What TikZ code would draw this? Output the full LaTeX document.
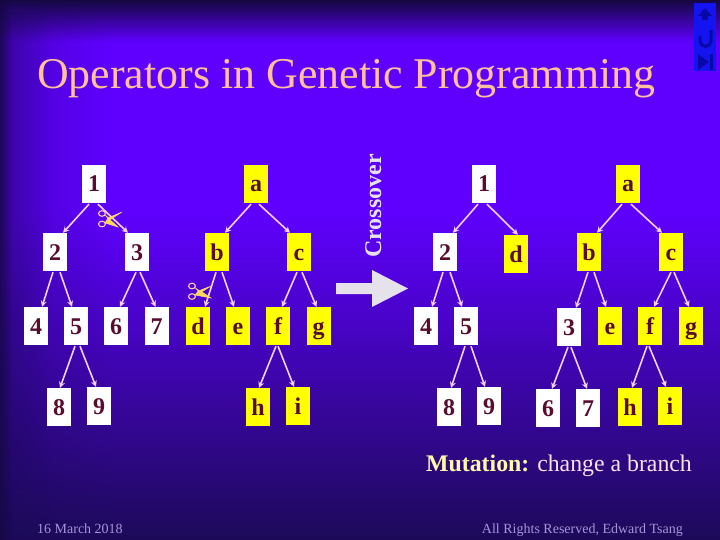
\documentclass[tikz,border=0pt]{standalone}
\usepackage{fontspec}
\setmainfont{Liberation Serif}
\usetikzlibrary{arrows.meta,fadings}
\definecolor{bgmain}{HTML}{5F00FF}
\definecolor{bgdark}{HTML}{1C0A58}
\definecolor{bgedge}{HTML}{140840}
\definecolor{ink}{HTML}{5A0C30}
\definecolor{boxyellow}{HTML}{FFFF00}
\definecolor{titlecol}{HTML}{FFC09A}
\definecolor{linecol}{HTML}{F6D0F6}
\definecolor{footcol}{HTML}{A595D8}
\definecolor{navblue}{HTML}{1414F0}
\definecolor{navdark}{HTML}{0808A8}
\definecolor{arrowcol}{HTML}{E6E2EC}
\definecolor{bladecol}{HTML}{FFD860}
\definecolor{ringcol}{HTML}{FFC8A8}
\tikzset{
  x=1pt,y=-1pt,
  treebox/.style={minimum width=24pt,minimum height=38pt,inner sep=0pt,
    text height=16pt,text depth=0pt,text=ink,font=\fontsize{24}{24}\selectfont\bfseries},
  tw/.style={treebox,fill=white},
  ty/.style={treebox,fill=boxyellow},
  conn/.style={draw=linecol,line width=1.6pt,-{Stealth[length=6pt,width=6pt]}},
  ring/.style={draw=ringcol,line width=1.1pt},
  blade/.style={fill=bladecol,draw=bladecol,line width=.5pt},
  navmark/.style={fill=navdark,draw=none}
}
\newcommand{\conn}[4]{\draw[conn] ([xshift=#3pt,yshift=-1pt]#1.south) -- ([xshift=#4pt]#2.north);}
\newcommand{\scissor}[8]{%
  \draw[ring] (#1,#2) ellipse [x radius=3.4,y radius=2.8];
  \draw[ring] (#3,#4) ellipse [x radius=3.4,y radius=2.8];
  \fill[blade] (#1+3,#2+1.5) -- (#5,#6-1.2) -- (#7,#8) -- (#5+1,#6+1) -- cycle;
}
\begin{document}
\begin{tikzpicture}
\useasboundingbox (0,0) rectangle (720,540);
% background
\fill[bgmain] (0,30) rectangle (720,210);
\shade[top color=bgedge,bottom color=bgmain,draw=none] (0,0) rectangle (720,42);
\shade[top color=bgmain,bottom color=bgdark,draw=none] (0,210) rectangle (720,540);
\fill[bgdark,opacity=.3,path fading=east] (0,0) rectangle (110,540);
\fill[bgdark,opacity=.4,path fading=east] (0,12) rectangle (52,540);
\fill[bgedge,opacity=.7,path fading=east] (0,0) rectangle (12,540);
% nav
\fill[navblue] (694,3) rectangle (716,71);
\fill[navmark] (705,8) -- (712,16) -- (698,16) -- cycle;
\fill[navmark] (702,16) rectangle (708,20);
\draw[navdark,line width=3pt] (711,30) -- (711,41) arc[start angle=0,end angle=180,radius=5.5] -- (700,36);
\fill[navmark] (698,54) -- (709,62) -- (698,70) -- cycle;
\fill[navmark] (710,54) rectangle (713,70);
% title
\node[anchor=base west,inner sep=0pt,text=titlecol,font=\fontsize{43.9}{44}\selectfont] (title) at (37,89) {Operators in Genetic Programming};
% left tree: numbers
\node[tw] (l1) at (94,184) {1};
\node[tw] (l2) at (55,252) {2};
\node[tw] (l3) at (137,252) {3};
\node[tw] (l4) at (36,326) {4};
\node[tw] (l5) at (76,326) {5};
\node[tw] (l6) at (116,326) {6};
\node[tw] (l7) at (156.5,326) {7};
\node[tw] (l8) at (59,407) {8};
\node[tw] (l9) at (99,406) {9};
% left tree: letters
\node[ty] (la) at (256,184) {a};
\node[ty] (lb) at (217,252) {b};
\node[ty] (lc) at (299,252) {c};
\node[ty] (ld) at (198,326) {d};
\node[ty] (le) at (238,326) {e};
\node[ty] (lf) at (278,326) {f};
\node[ty] (lg) at (318.5,326) {g};
\node[ty] (lh) at (258,407) {h};
\node[ty] (li) at (298,406) {i};
\conn{l1}{l2}{-5}{8}
\conn{l1}{l3}{4}{-9}
\conn{l2}{l4}{-2}{6}
\conn{l2}{l5}{5}{-4}
\conn{l3}{l6}{-1}{4}
\conn{l3}{l7}{3}{-1}
\conn{l5}{l8}{-1}{1}
\conn{l5}{l9}{4}{-3}
\conn{la}{lb}{-5}{8}
\conn{la}{lc}{3}{-9}
\conn{lb}{ld}{-1}{7}
\conn{lb}{le}{5}{-4}
\conn{lc}{lf}{-2}{4}
\conn{lc}{lg}{3}{-2}
\conn{lf}{lh}{-2}{1}
\conn{lf}{li}{0}{-4}
% right tree
\node[tw] (r1) at (484,184) {1};
\node[tw] (r2) at (445,252) {2};
\node[ty] (rd) at (516,254) {d};
\node[tw] (r4) at (426,326) {4};
\node[tw] (r5) at (466,326) {5};
\node[tw] (r8) at (449,407) {8};
\node[tw] (r9) at (489,406) {9};
\node[ty] (ra) at (628,184) {a};
\node[ty] (rb) at (589,252) {b};
\node[ty] (rc) at (671,252) {c};
\node[tw] (r3) at (569,327) {3};
\node[ty] (re) at (610,326) {e};
\node[ty] (rf) at (650,326) {f};
\node[ty] (rg) at (691,326) {g};
\node[tw] (r6) at (548,408) {6};
\node[tw] (r7) at (588,408) {7};
\node[ty] (rh) at (630,407) {h};
\node[ty] (ri) at (670,406) {i};
\conn{r1}{r2}{-6}{8}
\conn{r1}{rd}{3}{2}
\conn{r2}{r4}{-2}{6}
\conn{r2}{r5}{5}{-4}
\conn{r5}{r8}{-1}{2}
\conn{r5}{r9}{5}{-4}
\conn{ra}{rb}{-6}{8}
\conn{ra}{rc}{3}{-9}
\conn{rb}{r3}{-1}{7}
\conn{rb}{re}{5}{-4}
\conn{rc}{rf}{0}{4}
\conn{rc}{rg}{3}{-2}
\conn{r3}{r6}{-1}{4}
\conn{r3}{r7}{2}{-1}
\conn{rf}{rh}{-3}{2}
\conn{rf}{ri}{-1}{-4}
% scissors
\scissor{102}{213.5}{102}{224}{108.5}{219}{122}{212}
\fill[blade] (105,223) -- (108,218) -- (118,227) -- cycle;
\scissor{192}{286}{192}{296.5}{199}{292}{211}{286}
\fill[blade] (195,295) -- (199,290) -- (211,298) -- cycle;
% crossover arrow
\fill[arrowcol] (336,283) -- (372,283) -- (372,270) -- (408,288.5) -- (372,307) -- (372,294) -- (336,294) -- cycle;
\node[rotate=90,anchor=base west,inner sep=0pt,text=arrowcol,font=\fontsize{24}{24}\selectfont\bfseries] (xover) at (381,258) {Crossover};
% captions
\node[anchor=base west,inner sep=0pt,font=\fontsize{23.8}{24}\selectfont,text=white!88!magenta] (mut) at (426,471) {\textcolor{yellow!35!white}{\bfseries Mutation:} change a branch};
\node[anchor=base west,inner sep=0pt,font=\fontsize{14}{14}\selectfont,text=footcol] (date) at (37,533) {16 March 2018};
\node[anchor=base east,inner sep=0pt,font=\fontsize{14}{14}\selectfont,text=footcol] (rights) at (683,533) {All Rights Reserved, Edward Tsang};
\end{tikzpicture}
\end{document}
